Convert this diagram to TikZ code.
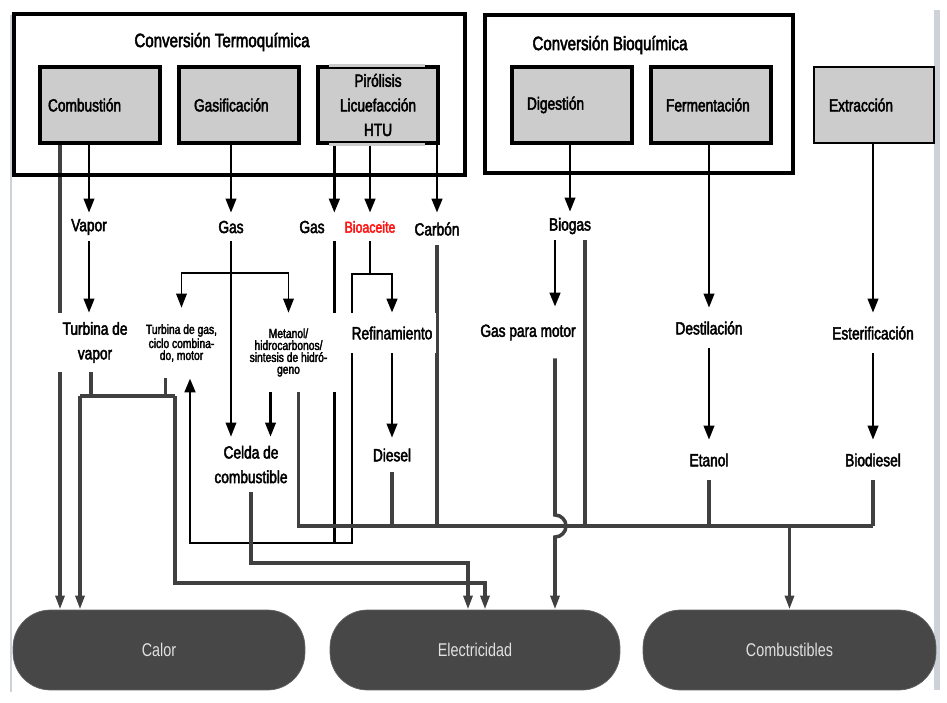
\documentclass[tikz,border=0pt]{standalone}
\usepackage{fontspec}
\setmainfont{Liberation Sans}[FakeStretch=0.78]
\newfontfamily\labelfam{Liberation Sans}[FakeStretch=0.78,FakeBold=2.5]
\newcommand\lblfont{\labelfam\fontsize{10}{14}\selectfont}
\newcommand\tinyfont{\labelfam\fontsize{7.5}{6.8}\selectfont}
\newcommand\headfont{\labelfam\fontsize{11}{13}\selectfont}
\newcommand\pillfont{\fontsize{10.5}{12}\selectfont}
\usetikzlibrary{arrows.meta, positioning, backgrounds}
\definecolor{boxGray}{RGB}{204,204,204}
\definecolor{pillGray}{RGB}{71,71,71}
\definecolor{lineGray}{RGB}{64,64,64}
\definecolor{edgeGray}{RGB}{205,210,216}
\definecolor{bioRed}{RGB}{255,20,20}

\begin{document}
\begin{tikzpicture}[x=0.02cm, y=-0.02cm,
        proc/.style={draw, line width=1.9pt, fill=boxGray, minimum width=2.4cm,
            minimum height=1.52cm, text width=1.8cm, inner xsep=0.3cm, align=left, font=\lblfont},
        group/.style={draw, line width=2.3pt, inner sep=0pt},
        txt/.style={fill=white, inner sep=1pt, align=center, font=\lblfont},
        txtsmall/.style={txt, font=\tinyfont},
        pill/.style={fill=pillGray, draw=pillGray!85, rounded corners=0.75cm, minimum width=5.84cm,
            minimum height=1.6cm, text=white!88!black, font=\pillfont},
        arr/.style={-{Triangle[length=8pt,width=6pt]}, line width=1.3pt},
        bline/.style={line width=1.7pt},
        gline/.style={line width=2pt, lineGray},
        garr/.style={gline, -{Triangle[length=8pt,width=5pt]}}]
    \useasboundingbox (0,0) rectangle (947,703);

    % Thermochemical conversion
    \node[group, minimum width=9.02cm, minimum height=3.22cm] (termo) at (239.5,94.5) {};
    \node[font=\headfont] (termotit) at (222,42) {Conversión Termoquímica};
    \node[proc, text width=2.08cm, inner xsep=0.16cm] (comb) at (100,105) {Combustión};
    \node[proc] (gasi) at (239,105) {Gasificación};
    \node[proc, align=center, text width=2cm, inner xsep=0.2cm] (piro) at (378,105) {Pirólisis\\Licuefacción\\HTU};
    \fill[boxGray] ([xshift=0.26cm,yshift=0.034cm]piro.north west) rectangle ([xshift=-0.3cm,yshift=-0.034cm]piro.north east);
    \fill[boxGray] ([xshift=0.26cm,yshift=0.034cm]piro.south west) rectangle ([xshift=-0.3cm,yshift=-0.034cm]piro.south east);

    % Biochemical conversion
    \node[group, minimum width=6.16cm, minimum height=3.16cm] (bioq) at (639,94) {};
    \node[font=\headfont] (bioqtit) at (610,45) {Conversión Bioquímica};
    \node[proc] (dig) at (572,105) {Digestión};
    \node[proc] (ferm) at (711,105) {Fermentación};
    \node[proc, line width=1.6pt] (ext) at (874,105) {Extracción};

    % Intermediate products
    \node[txt, minimum height=0.56cm] (vap) at (89,227) {Vapor};
    \node[txt, minimum height=0.56cm] (gas1) at (231,227) {Gas};
    \node[txt, minimum height=0.56cm, minimum width=0.88cm] (gas2) at (312,227) {Gas};
    \node[txt, minimum height=0.56cm, text=bioRed, font=\labelfam\fontsize{9}{11}\selectfont] (bio) at (370,227) {Bioaceite};
    \node[txt, minimum height=0.64cm] (carb) at (437,229) {Carbón};
    \node[txt, minimum height=0.56cm] (biog) at (570,226) {Biogas};

    \node[txt, minimum width=1.6cm, minimum height=1.18cm] (tvap) at (95,342.5) {Turbina de\\vapor};
    \node[txtsmall, minimum width=1.54cm, minimum height=1.4cm] (tgas) at (181.5,343) {Turbina de gas,\\ciclo combina-\\do, motor};
    \node[txtsmall, minimum width=1.94cm, minimum height=1.58cm] (met) at (288.5,352.5) {Metanol/\\hidrocarbonos/\\sintesis de hidró-\\geno};
    \node[txt, minimum width=1.76cm, minimum height=0.8cm] (ref) at (392,333) {Refinamiento};
    \node[txt, minimum width=2.08cm, minimum height=1.02cm] (gpm) at (528,332.5) {Gas para motor};
    \node[txt, minimum height=0.8cm] (dest) at (709,328) {Destilación};
    \node[txt, minimum height=0.8cm] (ester) at (873,333) {Esterificación};

    \node[txt, minimum height=1.1cm] (celda) at (251,464.5) {Celda de\\combustible};
    \node[txt, minimum height=0.68cm] (diesel) at (392,455) {Diesel};
    \node[txt, minimum height=0.8cm] (etan) at (709,460) {Etanol};
    \node[txt, minimum height=0.8cm] (biod) at (873,460) {Biodiesel};

    % End uses
    \node[pill] (calor) at (159,650) {Calor};
    \node[pill, minimum width=5.8cm] (elec) at (475,650) {Electricidad};
    \node[pill, minimum width=5.86cm] (fuel) at (789.5,650) {Combustibles};

    % Junctions
    \coordinate (gs) at (231,273);
    \coordinate (bs) at (370,274);
    \coordinate (tj1) at (80,396);
    \coordinate (tj2) at (175,396);
    \coordinate (loop) at (190,543);
    \coordinate (loopR) at (352,543);
    \coordinate (ec1) at (468,563);
    \coordinate (ec2) at (485,583);
    \coordinate (busR) at (873,526);
    \coordinate (hop) at (555,526);

    \begin{scope}[on background layer]
        \draw[edgeGray, line width=1.2pt] (11,15) -- (11,692);
        \draw[edgeGray, line width=3pt] (937,10) -- (937,690);

        % Out of the processes
        \draw[garr, line width=2.4pt] ([xshift=-0.8cm]comb.south) -- ([xshift=-0.8cm]comb.south |- calor.north);
        \draw[arr] (comb.south -| vap) -- (vap);
        \draw[arr] (gasi.south -| gas1) -- (gas1);
        \draw[arr, line width=1.6pt] (piro.south -| gas2.east) -- (gas2.north east);
        \draw[arr, line width=1.6pt] (piro.south -| bio) -- (bio);
        \draw[arr, line width=1.6pt] (piro.south -| carb) -- (carb);
        \draw[arr] (dig.south -| biog) -- (biog);
        \draw[arr] (ferm.south -| dest) -- (dest);
        \draw[arr] (ext.south -| ester) -- (ester);

        % Thermochemical routes
        \draw[arr] (vap) -- (vap |- tvap.north);
        \draw[arr, line width=1pt] (gas1) -- (gas1 |- celda.north);
        \draw[arr, line width=1pt] (gs) -| (tgas.north);
        \draw[arr, line width=1pt] (gs) -| (met.north);
        \draw[bline, -{Triangle[length=8pt,width=6pt]}] (gas2.south east) |- (loop) -- (loop |- tgas.south);
        \draw[bline] (bio) -- (bs);
        \draw[arr, line width=1.6pt] (bs) -| (ref.north);
        \draw[bline] (bs) -| (loopR) -- (gas2.south east |- loopR);
        \draw[arr] (ref) -- (diesel);
        \draw[arr] ([xshift=-0.36cm]met.south) -- ([xshift=-0.36cm]met.south |- celda.north);

        % Biochemical and extraction routes
        \draw[arr] (dest) -- (etan);
        \draw[arr] (ester) -- (biod);

        % Heat and electricity
        \draw[gline] ([xshift=-0.08cm]tvap.south) -- ([xshift=-0.08cm]tvap.south |- tj1);
        \draw[gline] ([xshift=-0.32cm]tgas.south) -- ([xshift=-0.32cm]tgas.south |- tj2);
        \draw[gline] (tj1) -- (tj2);
        \draw[garr] (tj1) -- (tj1 |- calor.north);
        \draw[garr] (tj2) |- (ec2) -- (ec2 |- elec.north);
        \draw[garr] (celda) |- (ec1) -- (ec1 |- elec.north);

        % Fuels
        \draw[gline] ([xshift=0.2cm]met.south) |- (busR);
        \draw[gline] (diesel) -- (diesel |- busR);
        \draw[gline] (carb) -- (carb |- busR);
        \draw[gline] ([xshift=0.3cm]biog.south) -- ([xshift=0.3cm]biog.south |- busR);
        \draw[gline] (etan) -- (etan |- busR);
        \draw[gline] (biod) -- (busR);
        \draw[garr] (fuel.north |- busR) -- (fuel);

        % Biogas to electricity, hopping over the fuel line
        \draw[arr, line width=1.6pt] (biog.south -| hop) -- (hop |- gpm.north);
        \draw[garr] (hop |- gpm.south) -- ([yshift=0.22cm]hop) arc[start angle=90, end angle=-90, radius=0.22cm] -- (hop |- elec.north);
    \end{scope}
\end{tikzpicture}
\end{document}
